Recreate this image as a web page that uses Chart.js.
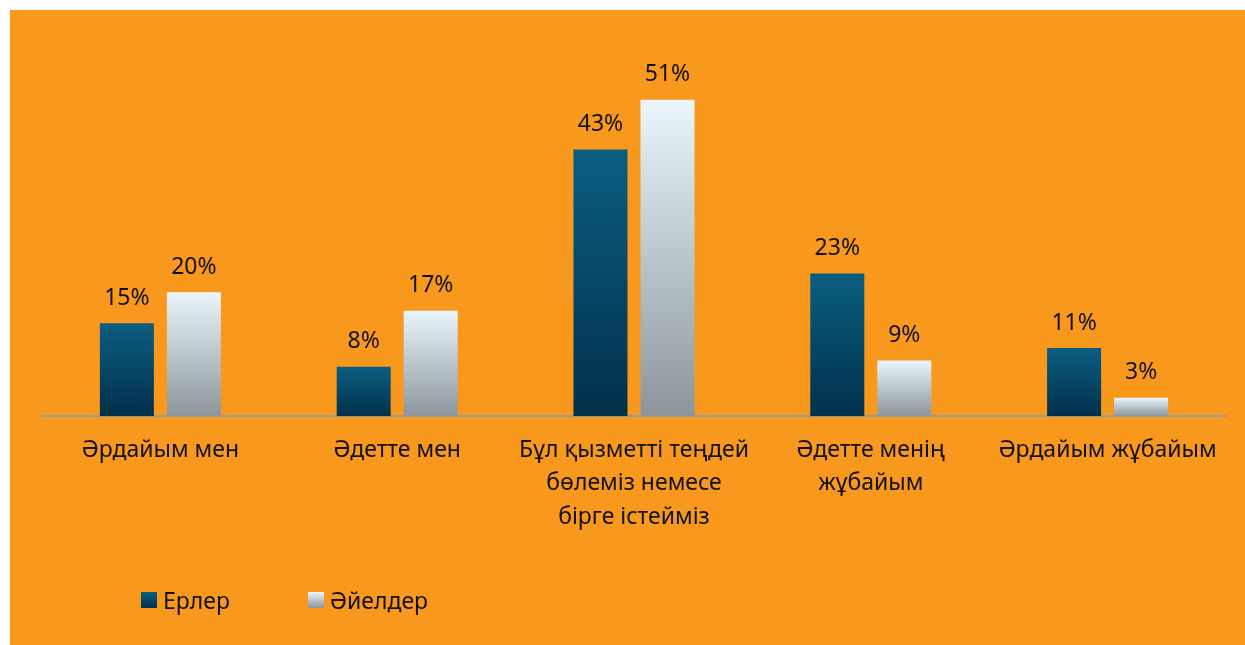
<!DOCTYPE html>
<html>
<head>
<meta charset="utf-8">
<script src="https://cdn.jsdelivr.net/npm/chart.js@4"></script>
<style>
  html, body { margin: 0; padding: 0; background: #fff; }
  #wrap { position: absolute; left: 10px; top: 10px; width: 1235px; height: 635px; background: #F8991D; }
  #legend { position: absolute; left: 0; top: 578px; font: 23px/24px "Noto Sans", sans-serif; color: #111; }
  .item { position: absolute; top: 0; white-space: nowrap; }
  .sw { position: absolute; top: 4px; width: 16px; height: 16px; }
  .item span.t { position: absolute; left: 22px; top: 0; }
</style>
</head>
<body>
<div id="wrap">
  <canvas id="chart"></canvas>
  <div id="legend">
    <div class="item" style="left:131px"><div class="sw" style="background:linear-gradient(#0A5E82,#02304A)"></div><span class="t">Ерлер</span></div>
    <div class="item" style="left:298px"><div class="sw" style="background:linear-gradient(#EAF6FC,#8C959C)"></div><span class="t">Әйелдер</span></div>
  </div>
</div>
<script>
const categories = [
  ['Әрдайым мен'],
  ['Әдетте мен'],
  ['Бұл қызметті теңдей', 'бөлеміз немесе', 'бірге істейміз'],
  ['Әдетте менің', 'жұбайым'],
  ['Әрдайым жұбайым'],
];
const men = [15, 8, 43, 23, 11];
const women = [20, 17, 51, 9, 3];
const seriesNames = ['Ерлер', 'Әйелдер'];

const FONT = '"Noto Sans", sans-serif';

function barGradient(top, bottom) {
  return (ctx) => {
    const chart = ctx.chart;
    if (!chart.chartArea || ctx.raw === undefined) return top;
    const y = chart.scales.y;
    const y0 = y.getPixelForValue(ctx.raw);
    const y1 = y.getPixelForValue(0);
    const g = chart.ctx.createLinearGradient(0, y0, 0, y1);
    g.addColorStop(0, top);
    g.addColorStop(1, bottom);
    return g;
  };
}

const valueLabels = {
  id: 'valueLabels',
  afterDatasetsDraw(chart) {
    const ctx = chart.ctx;
    ctx.save();
    ctx.font = '23px ' + FONT;
    ctx.fillStyle = '#111';
    ctx.textAlign = 'center';
    ctx.textBaseline = 'middle';
    chart.data.datasets.forEach((ds, di) => {
      chart.getDatasetMeta(di).data.forEach((bar, i) => {
        ctx.fillText(ds.data[i] + '%', bar.x, bar.y - 25);
      });
    });
    ctx.restore();
  }
};

new Chart(document.getElementById('chart'), {
  type: 'bar',
  data: {
    labels: categories,
    datasets: [
      {
        label: seriesNames[0],
        data: men,
        backgroundColor: barGradient('#0A5E82', '#02304A'),
        categoryPercentage: 0.566,
        barPercentage: 0.806,
      },
      {
        label: seriesNames[1],
        data: women,
        backgroundColor: barGradient('#EAF6FC', '#8C959C'),
        categoryPercentage: 0.566,
        barPercentage: 0.806,
      },
    ],
  },
  options: {
    responsive: true,
    maintainAspectRatio: false,
    animation: false,
    layout: { padding: { left: 32, right: 19, top: 34, bottom: 94 } },
    scales: {
      x: {
        grid: { display: false, drawTicks: false },
        border: { color: '#9a9a9a', width: 2 },
        ticks: {
          color: '#111',
          padding: 17,
          maxRotation: 0,
          autoSkip: false,
          font: { family: FONT, size: 23, lineHeight: 1.46 },
        },
      },
      y: {
        display: false,
        min: 0,
        max: 60,
      },
    },
    plugins: {
      legend: { display: false },
      tooltip: { enabled: false },
    },
  },
  plugins: [valueLabels],
});
</script>
</body>
</html>
